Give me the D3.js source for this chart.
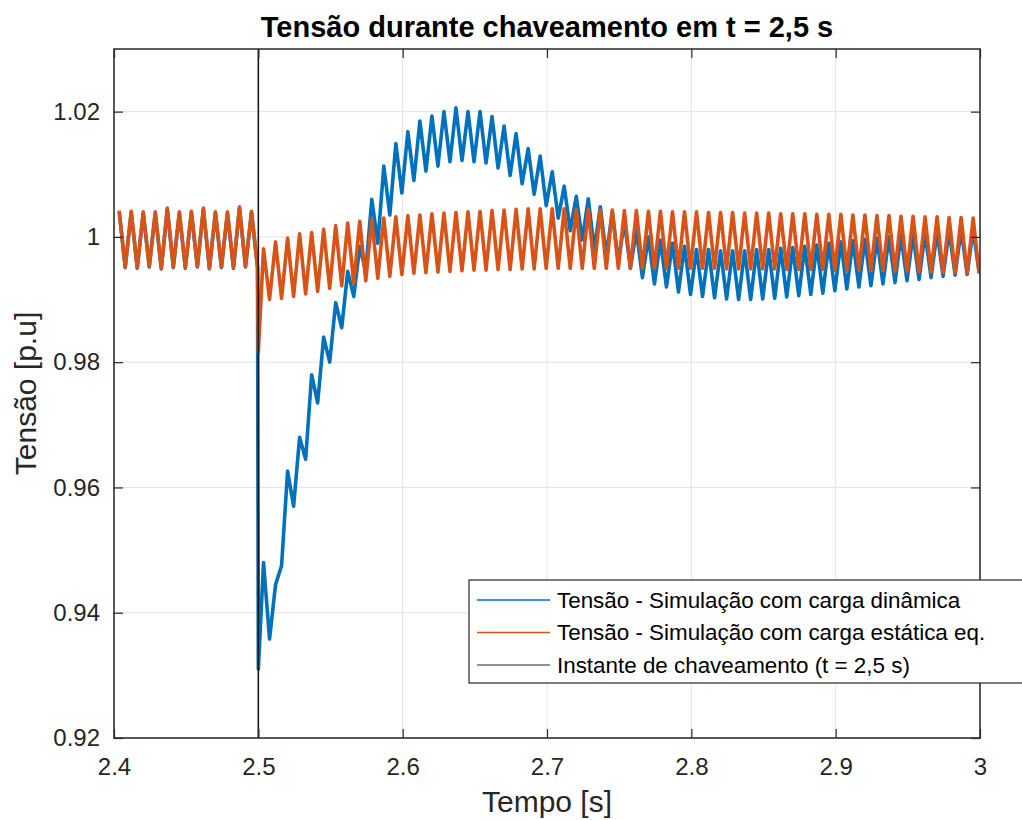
<!DOCTYPE html>
<html>
<head>
<meta charset="utf-8">
<script src="https://cdn.jsdelivr.net/npm/d3@7"></script>
<style>
  body { margin: 0; background: #fff; }
  svg { font-family: "Liberation Sans", Arial, sans-serif; }
</style>
</head>
<body>
<svg width="1022" height="820"></svg>
<script>
// Ripple of 120 Hz: one peak and one trough per cycle
const firstPeakT = 2.4036;
const cycleDt = 1 / 120;

// Static equivalent load (orange)
const estaticaPico = [
  1.0042, 1.0041, 1.0040, 1.0040, 1.0046, 1.0040, 1.0041, 1.0046, 1.0040, 1.0040, 1.0048, 1.0041,
  0.9981, 0.9992, 0.9998, 1.0005, 1.0007, 1.0012, 1.0018, 1.0022, 1.0025, 1.0028,
  1.0030, 1.0032, 1.0034, 1.0035, 1.0037, 1.0038, 1.0039, 1.0040, 1.0041, 1.0042,
  1.0043, 1.0044, 1.0045, 1.0045, 1.0045, 1.0045, 1.0044, 1.0044, 1.0043, 1.0043,
  1.0042, 1.0042, 1.0041, 1.0041, 1.0040, 1.0040, 1.0040, 1.0039, 1.0039, 1.0039,
  1.0038, 1.0038, 1.0038, 1.0037, 1.0037, 1.0037, 1.0036, 1.0036, 1.0036, 1.0035,
  1.0035, 1.0034, 1.0034, 1.0033, 1.0033, 1.0032, 1.0032, 1.0031, 1.0031, 1.0030
];
const estaticaVale = [
  0.9952, 0.9951, 0.9953, 0.9950, 0.9952, 0.9951, 0.9953, 0.9950, 0.9952, 0.9951, 0.9953, 0.9952,
  0.9900, 0.9902, 0.9905, 0.9909, 0.9913, 0.9918, 0.9922, 0.9926, 0.9930, 0.9934,
  0.9937, 0.9940, 0.9942, 0.9943, 0.9944, 0.9945, 0.9946, 0.9947, 0.9947, 0.9948,
  0.9948, 0.9949, 0.9949, 0.9950, 0.9950, 0.9950, 0.9950, 0.9950, 0.9950, 0.9950,
  0.9950, 0.9950, 0.9950, 0.9950, 0.9950, 0.9950, 0.9950, 0.9950, 0.9949, 0.9949,
  0.9949, 0.9949, 0.9949, 0.9948, 0.9948, 0.9948, 0.9948, 0.9947, 0.9947, 0.9947,
  0.9946, 0.9946, 0.9945, 0.9945, 0.9944, 0.9944, 0.9943, 0.9943, 0.9942, 0.9942
];

// Dynamic load (blue)
const dinamicaPico = [
  1.0040, 1.0039, 1.0038, 1.0038, 1.0044, 1.0038, 1.0039, 1.0044, 1.0038, 1.0038, 1.0046, 1.0039,
  0.9480, 0.9445, 0.9626, 0.9680, 0.9780, 0.9840, 0.9895, 0.9945, 0.9985, 1.0060,
  1.0113, 1.0149, 1.0168, 1.0185, 1.0193, 1.0200, 1.0206, 1.0200, 1.0200, 1.0192,
  1.0177, 1.0165, 1.0141, 1.0129, 1.0104, 1.0081, 1.0065, 1.0061, 1.0048, 1.0040,
  1.0025, 1.0010, 1.0000, 0.9995, 0.9990, 0.9985, 0.9980, 0.9980, 0.9978, 0.9978,
  0.9978, 0.9980, 0.9980, 0.9982, 0.9983, 0.9985, 0.9987, 0.9990, 0.9992, 0.9994,
  0.9996, 0.9998, 1.0000, 1.0002, 1.0004, 1.0006, 1.0008, 1.0010, 1.0012, 1.0012
];
const dinamicaVale = [
  0.9951, 0.9950, 0.9952, 0.9949, 0.9951, 0.9950, 0.9952, 0.9949, 0.9951, 0.9950, 0.9952, 0.9951,
  0.9358, 0.9475, 0.9570, 0.9645, 0.9735, 0.9800, 0.9855, 0.9905, 0.9945, 0.9990,
  1.0035, 1.0070, 1.0090, 1.0105, 1.0113, 1.0120, 1.0122, 1.0120, 1.0118, 1.0110,
  1.0098, 1.0085, 1.0068, 1.0050, 1.0030, 1.0010, 0.9995, 0.9980, 0.9970, 0.9960,
  0.9950, 0.9935, 0.9925, 0.9920, 0.9912, 0.9908, 0.9905, 0.9903, 0.9901, 0.9900,
  0.9900, 0.9901, 0.9902, 0.9904, 0.9906, 0.9908, 0.9910, 0.9914, 0.9917, 0.9920,
  0.9922, 0.9925, 0.9927, 0.9930, 0.9932, 0.9935, 0.9937, 0.9939, 0.9940, 0.9942
];

// Dip at the switching instant
const estaticaQueda = [[2.5, 0.9816]];
const dinamicaQueda = [[2.5, 0.931]];
const chaveamentoT = 2.5;

const xTicks = [2.4, 2.5, 2.6, 2.7, 2.8, 2.9, 3];
const yTicks = [0.92, 0.94, 0.96, 0.98, 1, 1.02];

const legendLabels = [
  "Tensão - Simulação com carga dinâmica",
  "Tensão - Simulação com carga estática eq.",
  "Instante de chaveamento (t = 2,5 s)"
];
const colors = ["#0072BD", "#D95319", "#262626"];

// build [t, v] series: peak, trough, peak, ... plus the dip points
function buildSeries(peaks, troughs, dip) {
  const pts = [];
  peaks.forEach(function(p, k) {
    const t = firstPeakT + k * cycleDt;
    pts.push([t, p]);
    pts.push([t + cycleDt / 2, troughs[k]]);
  });
  return pts.concat(dip).sort(function(a, b) { return a[0] - b[0]; });
}

const dinamica = buildSeries(dinamicaPico, dinamicaVale, dinamicaQueda);
const estatica = buildSeries(estaticaPico, estaticaVale, estaticaQueda);

var svg = d3.select("svg"),
    margin = {top: 49, right: 42, bottom: 82, left: 114},
    width = +svg.attr("width") - margin.left - margin.right,
    height = +svg.attr("height") - margin.top - margin.bottom,
    g = svg.append("g").attr("transform", "translate(" + margin.left + "," + margin.top + ")");

var x = d3.scaleLinear().domain([2.4, 3]).range([0, width]),
    y = d3.scaleLinear().domain([0.92, 1.03]).range([height, 0]);

var fmt = function(d) { return String(+d.toFixed(2)); };

// grid
g.append("g").selectAll("line").data(xTicks).enter().append("line")
    .attr("x1", d => x(d)).attr("x2", d => x(d))
    .attr("y1", 0).attr("y2", height)
    .attr("stroke", "#e3e3e3").attr("stroke-width", 1);
g.append("g").selectAll("line").data(yTicks).enter().append("line")
    .attr("y1", d => y(d)).attr("y2", d => y(d))
    .attr("x1", 0).attr("x2", width)
    .attr("stroke", "#e3e3e3").attr("stroke-width", 1);

// data lines
svg.append("defs").append("clipPath").attr("id", "clip")
    .append("rect").attr("width", width).attr("height", height);

var line = d3.line().x(d => x(d[0])).y(d => y(d[1]));

var plot = g.append("g").attr("clip-path", "url(#clip)");
plot.append("path").datum(dinamica)
    .attr("d", line).attr("fill", "none")
    .attr("stroke", colors[0]).attr("stroke-width", 3.6).attr("stroke-linejoin", "round");
plot.append("path").datum(estatica)
    .attr("d", line).attr("fill", "none")
    .attr("stroke", colors[1]).attr("stroke-width", 3.6).attr("stroke-linejoin", "round");
plot.append("line")
    .attr("x1", x(chaveamentoT)).attr("x2", x(chaveamentoT))
    .attr("y1", y(0.92)).attr("y2", y(1.03))
    .attr("stroke", "#1a1a1a").attr("stroke-width", 1.6);

// axes (ticks inside, box on)
var axisColor = "#262626";
function styleAxis(sel) {
    sel.select(".domain").remove();
    sel.selectAll(".tick line").attr("stroke", axisColor).attr("stroke-width", 1.2);
    sel.selectAll(".tick text").attr("fill", axisColor)
        .style("font-size", "24px").style("font-family", "Liberation Sans, Arial, sans-serif");
}

g.append("g")
    .attr("transform", "translate(0," + height + ")")
    .call(d3.axisBottom(x).tickValues(xTicks).tickFormat(fmt).tickSizeInner(-9).tickPadding(20))
    .call(styleAxis);
g.append("g")
    .call(d3.axisTop(x).tickValues(xTicks).tickFormat("").tickSizeInner(-9))
    .call(styleAxis);
g.append("g")
    .call(d3.axisLeft(y).tickValues(yTicks).tickFormat(fmt).tickSizeInner(-9).tickPadding(14))
    .call(styleAxis);
g.append("g")
    .attr("transform", "translate(" + width + ",0)")
    .call(d3.axisRight(y).tickValues(yTicks).tickFormat("").tickSizeInner(-9))
    .call(styleAxis);

g.append("rect")
    .attr("width", width).attr("height", height)
    .attr("fill", "none").attr("stroke", axisColor).attr("stroke-width", 1.5);

// title and axis labels
svg.append("text")
    .attr("x", margin.left + width / 2).attr("y", 37)
    .attr("text-anchor", "middle")
    .attr("fill", "#000")
    .style("font-size", "29px").style("font-weight", "bold")
    .text("Tensão durante chaveamento em t = 2,5 s");

svg.append("text")
    .attr("x", margin.left + width / 2).attr("y", 812)
    .attr("text-anchor", "middle")
    .attr("fill", axisColor)
    .style("font-size", "30px")
    .text("Tempo [s]");

svg.append("text")
    .attr("transform", "translate(36," + (margin.top + height / 2) + ") rotate(-90)")
    .attr("text-anchor", "middle")
    .attr("fill", axisColor)
    .style("font-size", "30px")
    .text("Tensão [p.u]");

// legend
var legend = svg.append("g").attr("transform", "translate(469,580)");
legend.append("rect")
    .attr("width", 570).attr("height", 103)
    .attr("fill", "#fff").attr("stroke", axisColor).attr("stroke-width", 1.2);
var items = legend.selectAll(".item").data(legendLabels).enter().append("g")
    .attr("transform", (d, i) => "translate(0," + (20 + i * 32.5) + ")");
items.append("line")
    .attr("x1", 8).attr("x2", 81)
    .attr("stroke", (d, i) => colors[i])
    .attr("stroke-width", (d, i) => i < 2 ? 1.6 : 1.2);
items.append("text")
    .attr("x", 88).attr("dy", "0.35em")
    .attr("fill", "#000")
    .style("font-size", "22.4px")
    .text(d => d);
</script>
</body>
</html>
